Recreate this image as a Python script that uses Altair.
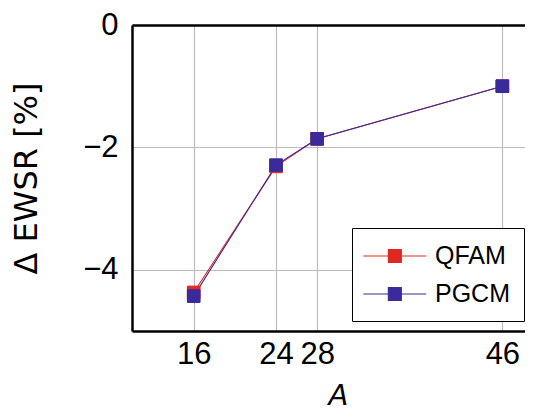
import altair as alt
import pandas as pd

A_values = [16, 24, 28, 46]
qfam = [-4.37, -2.31, -1.86, -1.0]
pgcm = [-4.43, -2.29, -1.86, -1.0]
series = ["QFAM", "PGCM"]
colors = ["#e0281e", "#3b2a9c"]
x_ticks = [16, 24, 28, 46]
y_ticks = [0, -2, -4]

rows = []
for name, vals in zip(series, [qfam, pgcm]):
    for a, v in zip(A_values, vals):
        rows.append({"A": a, "dEWSR": v, "method": name})
df = pd.DataFrame(rows)

PAD_L, PAD_T = 124, 17
W, H = 393, 306
PAD_R = 517 - PAD_L - W
PAD_B = 403 - PAD_T - H
FONT = "Liberation Sans"

xscale = alt.Scale(domain=[10, 48.2], nice=False, zero=False)
yscale = alt.Scale(domain=[-5, 0], nice=False, zero=False)
cscale = alt.Scale(domain=series, range=colors)

legend_path = "M-1.28,0L3.56,0M0.64,-0.5L1.64,-0.5L1.64,0.5L0.64,0.5Z"
legend = alt.Legend(
    title=None, orient="none", legendX=220, legendY=203,
    symbolType=legend_path, symbolSize=676, symbolStrokeWidth=1.1,
    labelFont=FONT, labelFontSize=25, labelColor="black",
    labelOffset=41, rowPadding=11, padding=14,
    strokeColor="black", fillColor="white",
    labelExpr="datum.label + '   '",
)

x_bottom = alt.X(
    "A:Q", scale=xscale,
    axis=alt.Axis(
        values=x_ticks, title="A", grid=True, gridColor="#bdbdbd", gridWidth=1.2,
        ticks=False, domainColor="black", domainWidth=2.5, format="d",
        labelFont=FONT, labelFontSize=31, labelColor="black", labelPadding=8,
        labelFlush=False,
        titleFont="DejaVu Sans", titleFontSize=29, titleFontStyle="italic",
        titleFontWeight="normal", titleColor="black",
        titleX=206, titleY=64, titleBaseline="middle", titleAlign="center",
    ),
)
y_left = alt.Y(
    "dEWSR:Q", scale=yscale,
    axis=alt.Axis(
        values=y_ticks, title="Δ EWSR [%]", grid=True, gridColor="#bdbdbd", gridWidth=1.2,
        ticks=False, domainColor="black", domainWidth=2.5, format="d",
        labelFont=FONT, labelFontSize=31, labelColor="black", labelPadding=14,
        labelFlush=False, labelBaseline="middle",
        labelExpr="replace(datum.label, '-', '\u2212')",
        titleFont="DejaVu Sans", titleFontSize=32, titleFontWeight="normal",
        titleColor="black", titleAngle=-90, titleX=-105.5, titleY=153,
        titleBaseline="middle", titleAlign="center",
    ),
)

lines = alt.Chart(df).mark_line(strokeWidth=1.1).encode(
    x=x_bottom,
    y=y_left,
    color=alt.Color("method:N", scale=cscale, legend=legend),
    order=alt.Order("A:Q"),
)

points = alt.Chart(df).mark_point(shape="square", filled=True, size=160, opacity=1, strokeWidth=1).encode(
    x=alt.X("A:Q", scale=xscale,
            axis=alt.Axis(orient="top", labels=False, ticks=False, grid=False,
                          title=None, domainColor="black", domainWidth=2.5)),
    y=alt.Y("dEWSR:Q", scale=yscale),
    color=alt.Color("method:N", scale=cscale, legend=legend),
    stroke=alt.Stroke("method:N", scale=cscale, legend=legend),
)

chart = alt.layer(lines, points).resolve_axis(x="independent").properties(
    width=W, height=H,
    autosize=alt.AutoSizeParams(type="none"),
    padding={"left": PAD_L, "top": PAD_T, "right": PAD_R, "bottom": PAD_B},
).configure_view(stroke=None).configure(background="white")

chart.save("out.html", embed_options={"renderer": "svg", "actions": False})
